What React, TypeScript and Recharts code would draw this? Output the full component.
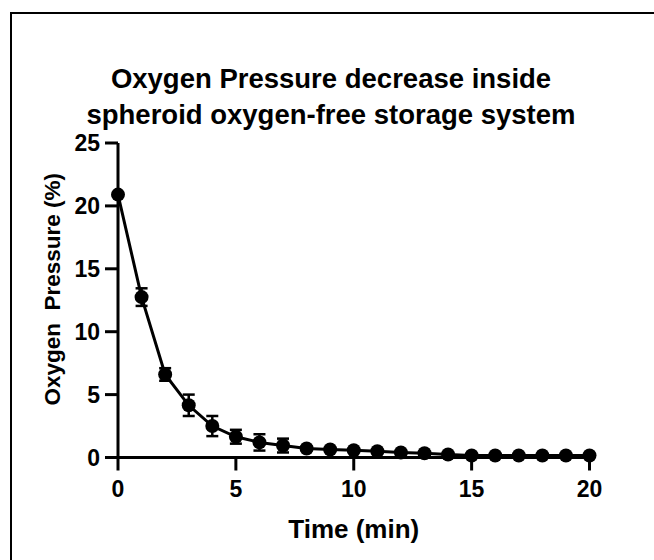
import React from 'react';
import { LineChart, Line, XAxis, YAxis, ErrorBar } from 'recharts';

const times = [0, 1, 2, 3, 4, 5, 6, 7, 8, 9, 10, 11, 12, 13, 14, 15, 16, 17, 18, 19, 20];
const pressure = [20.9, 12.75, 6.6, 4.15, 2.5, 1.65, 1.2, 0.95, 0.72, 0.64, 0.58, 0.5, 0.4, 0.34, 0.24, 0.16, 0.16, 0.16, 0.16, 0.16, 0.16];
const errors = [0, 0.7, 0.5, 0.85, 0.8, 0.55, 0.65, 0.55, 0.15, 0.12, 0.12, 0.1, 0.1, 0.1, 0.1, 0.1, 0.1, 0.1, 0.1, 0.1, 0.1];
const xTicks = [0, 5, 10, 15, 20];
const yTicks = [0, 5, 10, 15, 20, 25];
const titleLines = ['Oxygen Pressure decrease inside', 'spheroid oxygen-free storage system'];
const xLabel = 'Time (min)';
const yLabel = 'Oxygen\u00A0 Pressure (%)';

const data = times.map((t, i) => ({ t, p: pressure[i], err: errors[i] }));

const FONT = '"Liberation Sans", Arial, Helvetica, sans-serif';
const tickStyle = { fontSize: 23, fontWeight: 'bold', fill: '#000', fontFamily: FONT };
const lineStyle = { stroke: '#000', strokeWidth: 3 };

const YLabel = (props: any) => {
  const vb = props.viewBox || {};
  const cx = 52;
  const cy = vb.y + vb.height / 2 - 11;
  return (
    <text
      x={cx}
      y={cy}
      transform={`rotate(-90, ${cx}, ${cy})`}
      textAnchor="middle"
      dominantBaseline="central"
      style={{ fontSize: 22.5, fontWeight: 'bold', fill: '#000', fontFamily: FONT, whiteSpace: 'pre' }}
    >
      {yLabel}
    </text>
  );
};

const XLabel = (props: any) => {
  const vb = props.viewBox || {};
  const cx = vb.x + vb.width / 2;
  return (
    <text
      x={cx}
      y={538}
      textAnchor="middle"
      style={{ fontSize: 26, fontWeight: 'bold', fill: '#000', fontFamily: FONT }}
    >
      {xLabel}
    </text>
  );
};

export default function App() {
  return (
    <div style={{ position: 'absolute', left: 0, top: 0, width: 654, height: 560, background: '#fff', overflow: 'hidden' }}>
      <div
        style={{
          position: 'absolute',
          left: 10,
          top: 12,
          width: 700,
          height: 600,
          borderLeft: '2px solid #000',
          borderTop: '2px solid #000',
        }}
      />
      <svg width={654} height={560} style={{ position: 'absolute', left: 0, top: 0 }}>
        <text
          x={331}
          y={88}
          textAnchor="middle"
          style={{ fontSize: 27.5, fontWeight: 'bold', fill: '#000', fontFamily: FONT }}
        >
          {titleLines[0]}
        </text>
        <text
          x={331}
          y={124}
          textAnchor="middle"
          style={{ fontSize: 27.5, fontWeight: 'bold', fill: '#000', fontFamily: FONT }}
        >
          {titleLines[1]}
        </text>
      </svg>
      <div style={{ position: 'absolute', left: 0, top: 0 }}>
        <LineChart
          width={654}
          height={560}
          data={data}
          margin={{ top: 143, right: 64.5, bottom: 0, left: 0 }}
        >
          <XAxis
            type="number"
            dataKey="t"
            domain={[0, 20]}
            ticks={xTicks}
            interval={0}
            height={102.5}
            tickSize={13}
            tickMargin={10}
            axisLine={lineStyle}
            tickLine={lineStyle}
            tick={tickStyle}
            label={XLabel}
          />
          <YAxis
            type="number"
            domain={[0, 25]}
            ticks={yTicks}
            interval={0}
            width={118}
            tickSize={13}
            tickMargin={5}
            axisLine={lineStyle}
            tickLine={lineStyle}
            tick={tickStyle}
            label={YLabel}
          />
          <Line
            type="linear"
            dataKey="p"
            stroke="#000"
            strokeWidth={3}
            dot={{ r: 7, fill: '#000', stroke: '#000', strokeWidth: 0 }}
            isAnimationActive={false}
          >
            <ErrorBar dataKey="err" width={6} strokeWidth={2.5} stroke="#000" direction="y" />
          </Line>
        </LineChart>
      </div>
    </div>
  );
}
